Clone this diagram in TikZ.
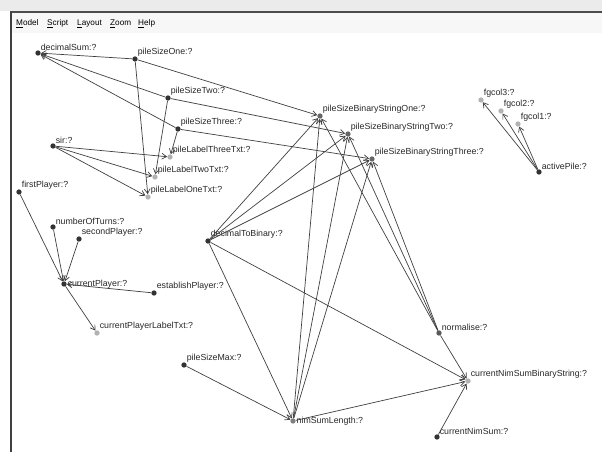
\documentclass[tikz,border=0pt]{standalone}
\usepackage{fontspec}
\setmainfont{Liberation Sans}
\usetikzlibrary{arrows.meta}
\tikzset{obs/.style = {circle,fill=black!80,inner sep=0pt,minimum size=4.5pt,
  label distance=1pt},
  sink/.style = {obs,fill=black!30},
  lbl/.style = {font=\fontsize{7.5}{8}\selectfont,inner sep=0.5pt,text=black!85},
  dep/.style = {draw=black!75,line width=0.6pt,
  -{Straight Barb[length=4pt,width=5pt]}},
  menu/.style = {anchor=west,inner sep=0pt,font=\fontsize{7}{8}\selectfont}
  }

\begin{document}
\begin{tikzpicture}[x=0.03cm,y=-0.03cm]
        \useasboundingbox (0,0) rectangle (602,452);
        % window frame
        \fill[black!8] (0,0) rectangle (602,11);
        \fill[black!3] (11,13) rectangle (602,33);
        \draw[black!70,line width=1.6pt] (10,12) -- (602,12);
        \draw[black!75,line width=2.2pt] (11,12) -- (11,452);
        \path (16,24) node[menu] (mmodel) {\underline{M}odel}
        (47,24) node[menu] (mscript) {\underline{S}cript}
        (77,24) node[menu] (mlayout) {\underline{L}ayout}
        (110,24) node[menu] (mzoom) {\underline{Z}oom}
        (138,24) node[menu] (mhelp) {\underline{H}elp};
        % observables
        \path (38,53) node[obs,label={[lbl]above right:{decimalSum:?}}] (dsum) {}
        (135,59) node[obs,label={[lbl]above right:{pileSizeOne:?}}] (ps1) {}
        (168,98) node[obs,label={[lbl]above right:{pileSizeTwo:?}}] (ps2) {}
        (178,129) node[obs,label={[lbl]above right:{pileSizeThree:?}}] (ps3) {}
        (53,146) node[obs,label={[lbl]above right:{sir:?}}] (sir) {}
        (170,157) node[sink,label={[lbl]above right:{pileLabelThreeTxt:?}}] (pl3) {}
        (155,177) node[sink,label={[lbl]above right:{pileLabelTwoTxt:?}}] (pl2) {}
        (148,197) node[sink,label={[lbl]above right:{pileLabelOneTxt:?}}] (pl1) {}
        (19,192) node[obs,label={[lbl]above right:{firstPlayer:?}}] (fp) {}
        (53,227) node[obs,label={[lbl]above right:{numberOfTurns:?}}] (nturns) {}
        (79,239) node[obs,label={[lbl]above right:{secondPlayer:?}}] (sp) {}
        (64,284) node[obs,label={[lbl]right:{currentPlayer:?}}] (cp) {}
        (154,293) node[obs,label={[lbl]above right:{establishPlayer:?}}] (ep) {}
        (97,333) node[sink,label={[lbl]above right:{currentPlayerLabelTxt:?}}] (cplbl) {}
        (208,241) node[obs,label={[lbl]above right:{decimalToBinary:?}}] (d2b) {}
        (320,116) node[obs,fill=black!60,label={[lbl]above right:{pileSizeBinaryStringOne:?}}] (bs1) {}
        (348,134) node[obs,fill=black!60,label={[lbl]above right:{pileSizeBinaryStringTwo:?}}] (bs2) {}
        (372,159) node[obs,fill=black!60,label={[lbl]above right:{pileSizeBinaryStringThree:?}}] (bs3) {}
        (184,365) node[obs,label={[lbl]above right:{pileSizeMax:?}}] (psmax) {}
        (293,421) node[obs,fill=black!50,label={[lbl]right:{nimSumLength:?}}] (nslen) {}
        (439,333) node[obs,fill=black!65,label={[lbl]above right:{normalise:?}}] (norm) {}
        (468,381) node[sink,label={[lbl]above right:{currentNimSumBinaryString:?}}] (cnsbs) {}
        (437,437) node[obs,label={[lbl]above right:{currentNimSum:?}}] (cns) {}
        (539,172) node[obs,label={[lbl]above right:{activePile:?}}] (ap) {}
        (518,124) node[sink,label={[lbl]above right:{fgcol1:?}}] (fg1) {}
        (501,111) node[sink,label={[lbl]above right:{fgcol2:?}}] (fg2) {}
        (481,100) node[sink,label={[lbl]above right:{fgcol3:?}}] (fg3) {};
        % dependencies
        \path[dep]
            (ps1) edge (dsum)  (ps2) edge (dsum)  (ps3) edge (dsum)
            (ps1) edge (pl1)   (ps2) edge (pl2)   (ps3) edge (pl3)
            (sir) edge (pl1)   (sir) edge (pl2)   (sir) edge (pl3)
            (ps1) edge (bs1)   (ps2) edge (bs2)   (ps3) edge (bs3)
            (d2b) edge (bs1)   (d2b) edge (bs2)   (d2b) edge (bs3)
            (nslen) edge (bs1) (nslen) edge (bs2) (nslen) edge (bs3)
            (norm) edge (bs1)  (norm) edge (bs2)  (norm) edge (bs3)
            (d2b) edge (nslen) (psmax) edge (nslen)
            (d2b) edge (cnsbs) (nslen) edge (cnsbs)
            (norm) edge (cnsbs) (cns) edge (cnsbs)
            (fp) edge (cp)     (nturns) edge (cp) (sp) edge (cp)
            (ep) edge (cp)     (cp) edge (cplbl)
            (ap) edge (fg1)    (ap) edge (fg2)    (ap) edge (fg3);
\end{tikzpicture}
\end{document}
